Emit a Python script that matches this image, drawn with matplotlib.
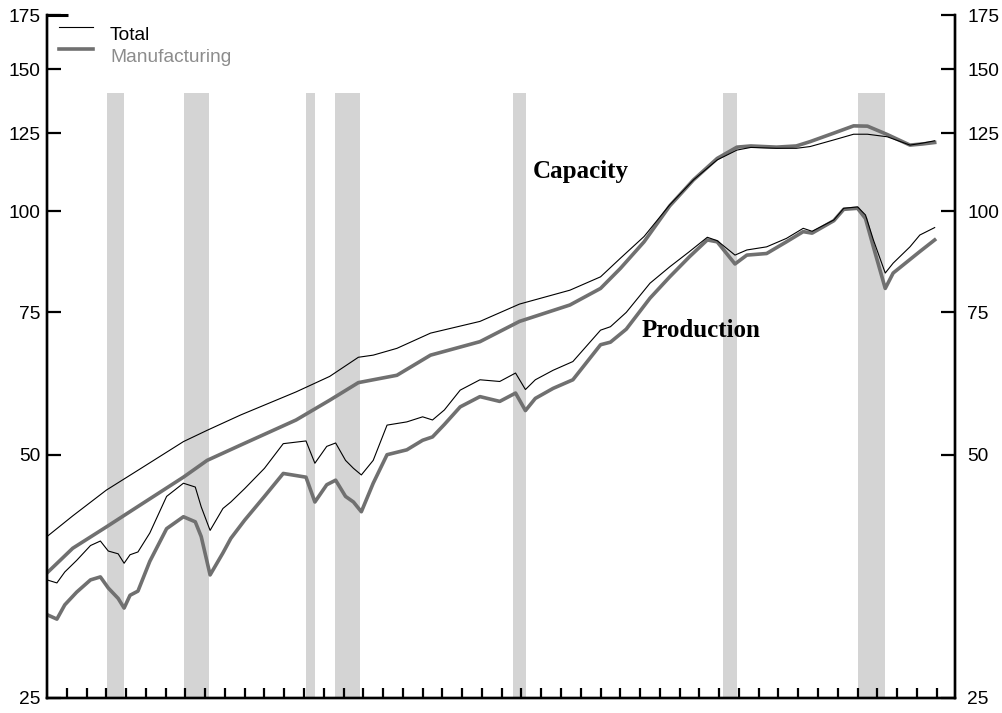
import matplotlib
matplotlib.use('Agg')
import matplotlib.pyplot as plt

# capacity, index values
cap_years = [1967.0, 1968.3, 1970.0, 1971.7, 1973.9, 1975.1, 1976.8, 1979.6,
             1981.3, 1982.75, 1983.5, 1984.7, 1986.4, 1988.9, 1990.9, 1993.45,
             1995.0, 1996.0, 1997.2, 1998.5, 1999.7, 2000.9, 2001.9, 2002.6,
             2003.9, 2004.9, 2005.6, 2006.8, 2007.8, 2008.5, 2009.5, 2010.65,
             2011.3, 2011.9]
cap_total = [39.6, 42.0, 45.2, 48.0, 51.9, 53.6, 56.0, 59.8,
             62.5, 66.0, 66.4, 67.7, 70.7, 73.1, 76.8, 79.9,
             83.0, 87.5, 93.1, 101.9, 109.4, 115.8, 119.1, 120.0,
             119.7, 119.7, 120.3, 122.6, 124.6, 124.6, 123.7, 120.8,
             121.5, 122.3]
cap_manuf = [35.7, 38.3, 40.7, 43.3, 46.9, 49.2, 51.4, 55.2,
             58.4, 61.4, 61.9, 62.7, 66.4, 69.0, 73.1, 76.6,
             80.3, 85.0, 91.7, 101.6, 109.4, 116.3, 120.1, 120.5,
             120.1, 120.5, 122.0, 125.0, 127.6, 127.5, 124.5, 120.8,
             121.2, 121.7]

# production
prod_years = [1967.0, 1967.5, 1967.9, 1968.5, 1969.2, 1969.7, 1970.1, 1970.6,
              1970.9, 1971.2, 1971.6, 1972.2, 1973.05, 1973.9, 1974.5, 1974.8,
              1975.25, 1975.9, 1976.3, 1977.0, 1978.0, 1978.95, 1980.1, 1980.55,
              1981.15, 1981.6, 1982.1, 1982.5, 1982.9, 1983.5, 1984.2, 1985.2,
              1986.0, 1986.5, 1987.1, 1987.9, 1988.9, 1989.9, 1990.7, 1991.2,
              1991.7, 1992.6, 1993.6, 1995.0, 1995.5, 1996.3, 1997.5, 1998.5,
              1999.5, 2000.4, 2000.9, 2001.8, 2002.4, 2003.4, 2004.4, 2005.25,
              2005.7, 2006.8, 2007.3, 2008.0, 2008.4, 2008.8, 2009.4, 2009.8,
              2010.65, 2011.15, 2011.9]
prod_total = [35.0, 34.7, 35.8, 37.0, 38.6, 39.1, 38.0, 37.7,
              36.7, 37.6, 37.9, 40.0, 44.4, 46.1, 45.6, 43.1,
              40.3, 42.9, 43.7, 45.4, 48.1, 51.6, 52.0, 48.8,
              51.2, 51.7, 49.2, 48.1, 47.2, 49.2, 54.4, 54.9,
              55.7, 55.2, 56.8, 60.1, 61.9, 61.6, 63.1, 60.2,
              61.9, 63.6, 65.2, 71.3, 72.0, 75.0, 81.5, 85.4,
              89.2, 92.9, 92.0, 88.3, 89.6, 90.4, 92.6, 95.3,
              94.5, 97.6, 100.9, 101.3, 99.0, 92.2, 83.9, 86.3,
              90.4, 93.5, 95.5]
prod_manuf = [31.7, 31.3, 32.6, 33.8, 35.0, 35.3, 34.2, 33.2,
              32.3, 33.5, 33.9, 36.9, 40.5, 41.9, 41.3, 39.6,
              35.5, 37.8, 39.4, 41.5, 44.4, 47.4, 46.9, 43.7,
              45.9, 46.5, 44.4, 43.7, 42.5, 46.1, 50.0, 50.7,
              52.1, 52.6, 54.5, 57.3, 59.0, 58.2, 59.6, 56.7,
              58.7, 60.4, 61.9, 68.4, 68.9, 71.5, 78.1, 83.0,
              87.9, 92.2, 91.7, 86.1, 88.3, 88.7, 91.7, 94.4,
              94.0, 97.4, 100.6, 100.9, 98.0, 90.4, 80.3, 83.9,
              87.2, 89.2, 92.2]

recessions = [(1970.03, 1970.9), (1973.93, 1975.2), (1980.1, 1980.56),
              (1981.57, 1982.85), (1990.59, 1991.21), (2001.2, 2001.88),
              (2008.0, 2009.39)]

yticks = [25, 50, 75, 100, 125, 150, 175]
years = list(range(1968, 2013))

TOTAL_COLOR = 'black'
MANUF_COLOR = '#707070'
SHADE = '#d4d4d4'
SANS = 'Liberation Sans'


def setup_axis(ax, pad):
    ax.set_yscale('log')
    ax.set_ylim(25, 175)
    ax.set_yticks(yticks)
    ax.set_yticklabels([str(t) for t in yticks])
    ax.minorticks_off()
    ax.tick_params(axis='y', which='major', direction='in', length=10, width=1.6,
                   pad=pad, labelsize=13.8)
    for lab in ax.get_yticklabels():
        lab.set_fontfamily(SANS)


def draw_legend(ax):
    # legend drawn by hand: line sits near the top of its label as in the original
    rows = [('Total', TOTAL_COLOR, 0.8, 'black', 0.9824, 0.9634),
            ('Manufacturing', MANUF_COLOR, 2.6, '#8c8c8c', 0.9502, 0.9312)]
    for label, color, lw, tcolor, yl, yt in rows:
        ax.plot([0.0132, 0.0507], [yl, yl], color=color, lw=lw,
                transform=ax.transAxes, clip_on=False)
        ax.text(0.0694, yt, label, color=tcolor, family=SANS, fontsize=13.8,
                ha='left', va='baseline', transform=ax.transAxes)


def make_plot():
    fig = plt.figure(figsize=(10.02, 7.13), dpi=100)
    ax = fig.add_axes([47 / 1002, 15 / 713, 908 / 1002, 683 / 713])

    for start, end in recessions:
        ax.fill_between([start, end], 25, 140, color=SHADE, linewidth=0, zorder=0)

    ax.plot(cap_years, cap_manuf, color=MANUF_COLOR, lw=2.6, zorder=2)
    ax.plot(prod_years, prod_manuf, color=MANUF_COLOR, lw=2.6, zorder=2)
    ax.plot(cap_years, cap_total, color=TOTAL_COLOR, lw=0.8, zorder=3)
    ax.plot(prod_years, prod_total, color=TOTAL_COLOR, lw=0.8, zorder=3)

    ax.set_xlim(1967, 1967 + 908 / 19.77)
    setup_axis(ax, 5)
    ax.set_xticks(years)
    ax.set_xticklabels([])
    ax.tick_params(axis='x', direction='in', length=7, width=1.6)
    ax.tick_params(axis='y', left=True, right=False)

    ax2 = ax.twinx()
    setup_axis(ax2, 9)

    for a in (ax, ax2):
        a.spines['top'].set_visible(False)
        for s in ('left', 'right', 'bottom'):
            a.spines[s].set_linewidth(1.7)

    # longer tick at the top corner on the left
    ax.plot([0, 0.023], [1, 1], color='black', lw=2.2,
            transform=ax.transAxes, clip_on=False, solid_capstyle='butt')

    ax.text(1991.58, 111.9, 'Capacity', family='Liberation Serif', weight='bold',
            fontsize=18, ha='left', va='center')
    ax.text(1997.05, 71.3, 'Production', family='Liberation Serif', weight='bold',
            fontsize=18, ha='left', va='center')

    draw_legend(ax)

    fig.savefig('out.png', dpi=100)


if __name__ == '__main__':
    make_plot()
